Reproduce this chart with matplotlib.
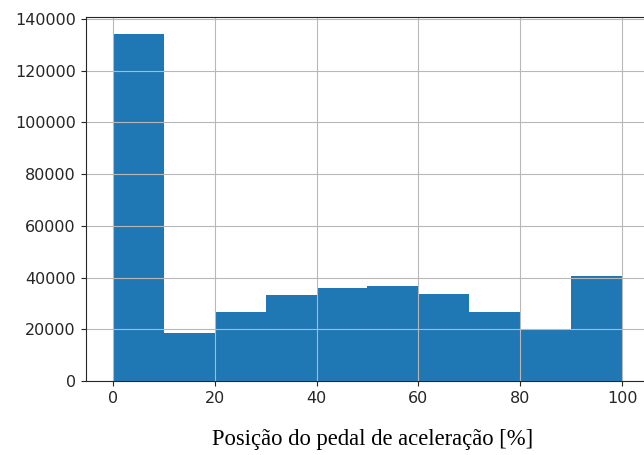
import numpy as np
import matplotlib
matplotlib.use("Agg")
import matplotlib.pyplot as plt

# Histogram of accelerator pedal position (10 bins, 0-100 %)
bin_edges = [0, 10, 20, 30, 40, 50, 60, 70, 80, 90, 100]
counts = [134000, 18400, 26700, 33100, 35800, 36900, 33800, 26600, 19600, 40700]
x_label = "Posição do pedal de aceleração [%]"

fig = plt.figure(figsize=(6.44, 4.55), dpi=100)
ax = fig.add_axes([0.1331, 0.1626, 0.875, 0.80])

ax.hist(bin_edges[:-1], bins=bin_edges, weights=counts, color="#1f77b4")
ax.grid(True, color="#b8b8b8", linewidth=0.8)
ax.set_xlim(-5.3, 105.3)
ax.set_ylim(0, max(counts) * 1.05)
ax.set_xticks([0, 20, 40, 60, 80, 100])
ax.set_yticks(np.arange(0, 140001, 20000))
ax.tick_params(labelsize=11.5, colors="#262626")
for s in ax.spines.values():
    s.set_color("#262626")

fig.text(0.579, 0.01, x_label, ha="center", va="bottom",
         family="Liberation Serif", fontsize=16.3, color="black")

fig.savefig("out.png", dpi=100)
